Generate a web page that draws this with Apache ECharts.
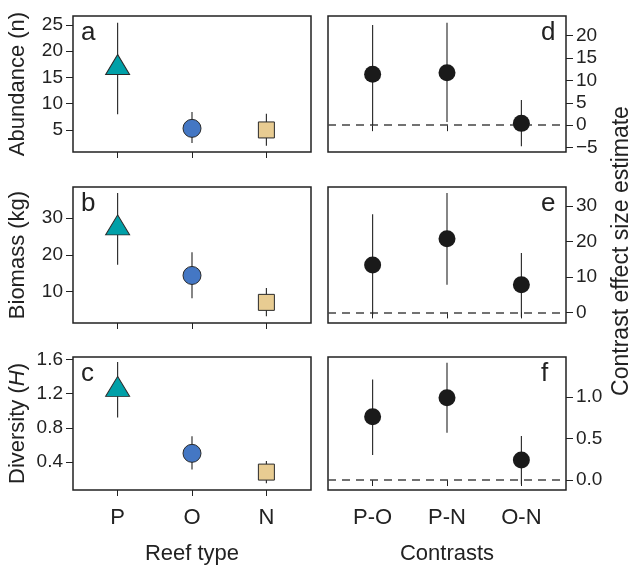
<!DOCTYPE html>
<html>
<head>
<meta charset="utf-8">
<script src="https://cdn.jsdelivr.net/npm/echarts@6/dist/echarts.min.js"></script>
<style>
html, body { margin: 0; padding: 0; background: #fff; }
#main { width: 633px; height: 566px; }
</style>
</head>
<body>
<div id="main"></div>
<script>
// categories
var reefTypes = ['P', 'O', 'N'];
var contrasts = ['P-O', 'P-N', 'O-N'];
var xPos = [1, 2, 3];

// reef type means and error bars
var abundMean = [16.9, 5.3, 5.0];
var abundLo = [8.0, 2.5, 2.0];
var abundHi = [25.4, 8.4, 8.1];
var biomassMean = [27.3, 14.4, 7.1];
var biomassLo = [17.3, 8.2, 3.3];
var biomassHi = [36.8, 20.7, 11.0];
var diversityMean = [1.25, 0.50, 0.28];
var diversityLo = [0.92, 0.31, 0.15];
var diversityHi = [1.57, 0.70, 0.41];

// contrast effect sizes
var cAbundMean = [11.4, 11.7, 0.4];
var cAbundLo = [0.0, 0.7, -4.7];
var cAbundHi = [22.4, 22.9, 5.6];
var cBiomassMean = [13.4, 20.8, 7.8];
var cBiomassLo = [-0.7, 7.8, -1.2];
var cBiomassHi = [27.7, 33.7, 16.8];
var cDiversityMean = [0.76, 0.99, 0.24];
var cDiversityLo = [0.30, 0.57, -0.05];
var cDiversityHi = [1.21, 1.41, 0.53];

// tick labels
var abundTicks = [5, 10, 15, 20, 25];
var biomassTicks = [10, 20, 30];
var diversityTicks = [0.4, 0.8, 1.2, 1.6];
var cAbundTicks = [-5, 0, 5, 10, 15, 20];
var cBiomassTicks = [0, 10, 20, 30];
var cDiversityTicks = [0.0, 0.5, 1.0];

var FONT = 'Liberation Sans, Arial, sans-serif';
var INK = '#222';
var reefSymbols = ['triangle', 'circle', 'rect'];
var reefSizes = [[24, 20], 18, 16];
var reefOffsets = [[0, -3], [0, 0], [0, 0]];
var reefColors = ['#00a0a8', '#4477c4', '#e8cc92'];

var tops = [16, 187, 357];
var gridH = 136;
var lefts = [73, 328];
var gridW = 238;

var panels = [
    {col: 0, row: 0, mean: abundMean, lo: abundLo, hi: abundHi, ticks: abundTicks, min: 0.8, max: 26.7, dec: 0, letter: 'a', name: 'Abundance (n)'},
    {col: 0, row: 1, mean: biomassMean, lo: biomassLo, hi: biomassHi, ticks: biomassTicks, min: 1.5, max: 38.4, dec: 0, letter: 'b', name: 'Biomass (kg)'},
    {col: 0, row: 2, mean: diversityMean, lo: diversityLo, hi: diversityHi, ticks: diversityTicks, min: 0.07, max: 1.63, dec: 1, letter: 'c', name: 'Diversity ({i|H})'},
    {col: 1, row: 0, mean: cAbundMean, lo: cAbundLo, hi: cAbundHi, ticks: cAbundTicks, min: -6.0, max: 24.4, dec: 0, letter: 'd'},
    {col: 1, row: 1, mean: cBiomassMean, lo: cBiomassLo, hi: cBiomassHi, ticks: cBiomassTicks, min: -3.0, max: 35.4, dec: 0, letter: 'e'},
    {col: 1, row: 2, mean: cDiversityMean, lo: cDiversityLo, hi: cDiversityHi, ticks: cDiversityTicks, min: -0.12, max: 1.48, dec: 1, letter: 'f'}
];

var grids = [], xAxes = [], yAxes = [], series = [], graphics = [];

for (var p = 0; p < panels.length; p++)
{
    var pn = panels[p];
    var right = pn.col === 1;
    var labels = right ? contrasts : reefTypes;
    grids.push({
        left: lefts[pn.col], top: tops[pn.row], width: gridW, height: gridH,
        show: true, borderColor: INK, borderWidth: 1.5, backgroundColor: '#fff'
    });
    xAxes.push({
        type: 'value', gridIndex: p, min: 0.4, max: 3.6,
        axisLine: {show: false},
        splitLine: {show: false},
        axisTick: {show: true, length: 6, customValues: xPos, lineStyle: {color: INK, width: 1}},
        axisLabel: {
            show: pn.row === 2, customValues: xPos, margin: 17,
            fontFamily: FONT, fontSize: 22, color: INK,
            formatter: (function (lab) { return function (v) { return lab[Math.round(v) - 1]; }; })(labels)
        },
        name: pn.row === 2 ? (right ? 'Contrasts' : 'Reef type') : '',
        nameLocation: 'middle', nameGap: 53,
        nameTextStyle: {fontFamily: FONT, fontSize: 22, color: INK}
    });
    yAxes.push({
        type: 'value', gridIndex: p, position: right ? 'right' : 'left',
        min: pn.min, max: pn.max,
        axisLine: {show: false},
        splitLine: {show: false},
        axisTick: {show: true, length: 7, customValues: pn.ticks, lineStyle: {color: INK, width: 1}},
        axisLabel: {
            customValues: pn.ticks, margin: 10,
            fontFamily: FONT, fontSize: 19, color: INK,
            formatter: (function (d) { return function (v) { return v.toFixed(d).replace('-', '\u2212'); }; })(pn.dec)
        },
        name: pn.name || '',
        nameLocation: 'middle', nameGap: 44, nameRotate: 90,
        nameTextStyle: {
            fontFamily: FONT, fontSize: 22, color: INK,
            rich: {i: {fontFamily: FONT, fontSize: 22, color: INK, fontStyle: 'italic'}}
        }
    });

    var bars = [], pts = [];
    for (var i = 0; i < 3; i++)
    {
        bars.push([xPos[i], pn.lo[i], pn.hi[i]]);
        if (right)
            pts.push([xPos[i], pn.mean[i]]);
        else
            pts.push({
                value: [xPos[i], pn.mean[i]],
                symbol: reefSymbols[i], symbolSize: reefSizes[i], symbolOffset: reefOffsets[i],
                itemStyle: {color: reefColors[i], borderColor: '#2a2a2a', borderWidth: 1, opacity: 1}
            });
    }

    series.push({
        type: 'custom', xAxisIndex: p, yAxisIndex: p, z: 2,
        encode: {x: 0, y: [1, 2]},
        data: bars,
        renderItem: function (params, api) {
            var a = api.coord([api.value(0), api.value(1)]);
            var b = api.coord([api.value(0), api.value(2)]);
            return {type: 'line', shape: {x1: a[0], y1: a[1], x2: b[0], y2: b[1]}, style: {stroke: INK, lineWidth: 1.1}};
        }
    });
    var sc = {
        type: 'scatter', xAxisIndex: p, yAxisIndex: p, z: 3,
        data: pts, silent: true, itemStyle: {opacity: 1}
    };
    if (right)
    {
        sc.symbol = 'circle';
        sc.symbolSize = 17;
        sc.itemStyle = {color: '#1a1a1a', opacity: 1};
        sc.markLine = {
            silent: true, symbol: 'none', z: 1,
            label: {show: false},
            lineStyle: {color: '#444', type: [8, 6], width: 1.5},
            data: [{yAxis: 0}]
        };
    }
    series.push(sc);

    graphics.push({
        type: 'text',
        left: right ? lefts[1] + gridW - 25 : lefts[0] + 8,
        top: tops[pn.row] + 4,
        style: {text: pn.letter, fontFamily: FONT, fontSize: 26, fill: INK}
    });
}

graphics.push({
    type: 'text', x: 622, y: 251, rotation: Math.PI / 2,
    style: {text: 'Contrast effect size estimate', fontFamily: FONT, fontSize: 23, fill: INK, align: 'center', verticalAlign: 'middle'}
});

var myChart = echarts.init(document.getElementById('main'));
var option = {
    backgroundColor: '#fff',
    animation: false,
    grid: grids,
    xAxis: xAxes,
    yAxis: yAxes,
    series: series,
    graphic: graphics
};
myChart.setOption(option);
</script>
</body>
</html>
